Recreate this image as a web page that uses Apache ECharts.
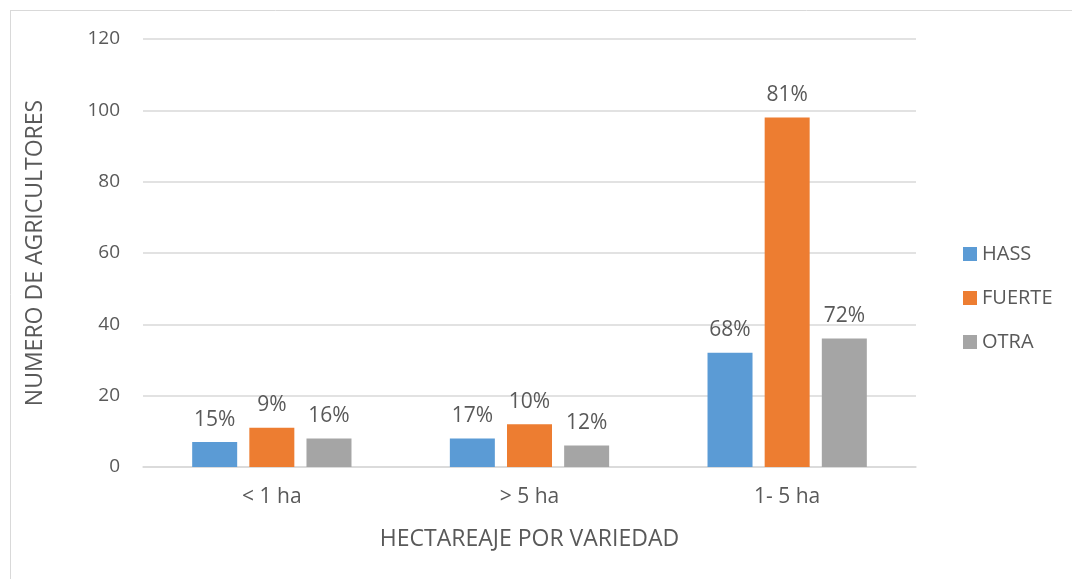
<!DOCTYPE html>
<html>
<head>
<meta charset="utf-8">
<script src="https://cdn.jsdelivr.net/npm/echarts@6/dist/echarts.min.js"></script>
<style>
  html, body { margin: 0; padding: 0; background: #fff; }
  #ec { width: 1072px; height: 579px; }
</style>
</head>
<body>
<div id="ec"></div>
<script>
const categories = ["< 1 ha", "> 5 ha", "1- 5 ha"];
const hass = [7, 8, 32];
const fuerte = [11, 12, 98];
const otra = [8, 6, 36];
// etiquetas de porcentaje sobre cada barra
const hassPct = ["15%", "17%", "68%"];
const fuertePct = ["9%", "10%", "81%"];
const otraPct = ["16%", "12%", "72%"];

const font = "Open Sans";
const txt = "#595959";

function mkSeries(name, data, pct, color) {
  return {
    name: name,
    type: "bar",
    data: data,
    barWidth: 45,
    barGap: "27%",
    itemStyle: { color: color },
    label: {
      show: true,
      position: "top",
      distance: 12,
      formatter: (p) => pct[p.dataIndex],
      fontFamily: font,
      fontSize: 21,
      color: txt,
    },
  };
}

const myChart = echarts.init(document.getElementById("ec"));
myChart.setOption({
  animation: false,
  textStyle: { fontFamily: font },
  graphic: [
    { type: "line", shape: { x1: 10.5, y1: 10, x2: 10.5, y2: 579 }, style: { stroke: "#d9d9d9", lineWidth: 1 } },
    { type: "line", shape: { x1: 10, y1: 10.5, x2: 1072, y2: 10.5 }, style: { stroke: "#d9d9d9", lineWidth: 1 } },
  ],
  legend: {
    orient: "vertical",
    left: 958,
    top: 239,
    itemWidth: 14,
    itemHeight: 14,
    itemGap: 24,
    icon: "rect",
    textStyle: { fontFamily: font, fontSize: 20, color: txt },
    data: ["HASS", "FUERTE", "OTRA"],
  },
  grid: {
    left: 143,
    right: 156,
    top: 39,
    bottom: 112,
  },
  xAxis: {
    type: "category",
    data: categories,
    name: "HECTAREAJE POR VARIEDAD",
    nameLocation: "middle",
    nameGap: 61,
    nameTextStyle: { fontFamily: font, fontSize: 23, color: txt },
    axisLine: { lineStyle: { color: "#d9d9d9", width: 1.5 } },
    axisTick: { show: false },
    axisLabel: { fontFamily: font, fontSize: 21, color: txt, margin: 20 },
  },
  yAxis: {
    type: "value",
    min: 0,
    max: 120,
    interval: 20,
    name: "NUMERO DE AGRICULTORES",
    nameLocation: "middle",
    nameGap: 96,
    nameTextStyle: { fontFamily: font, fontSize: 23, color: txt },
    axisLine: { show: false },
    axisTick: { show: false },
    axisLabel: { fontFamily: font, fontSize: 19, color: txt, margin: 23 },
    splitLine: { lineStyle: { color: "#d9d9d9", width: 1.5 } },
  },
  series: [
    mkSeries("HASS", hass, hassPct, "#5b9bd5"),
    mkSeries("FUERTE", fuerte, fuertePct, "#ed7d31"),
    mkSeries("OTRA", otra, otraPct, "#a5a5a5"),
  ],
});
</script>
</body>
</html>
